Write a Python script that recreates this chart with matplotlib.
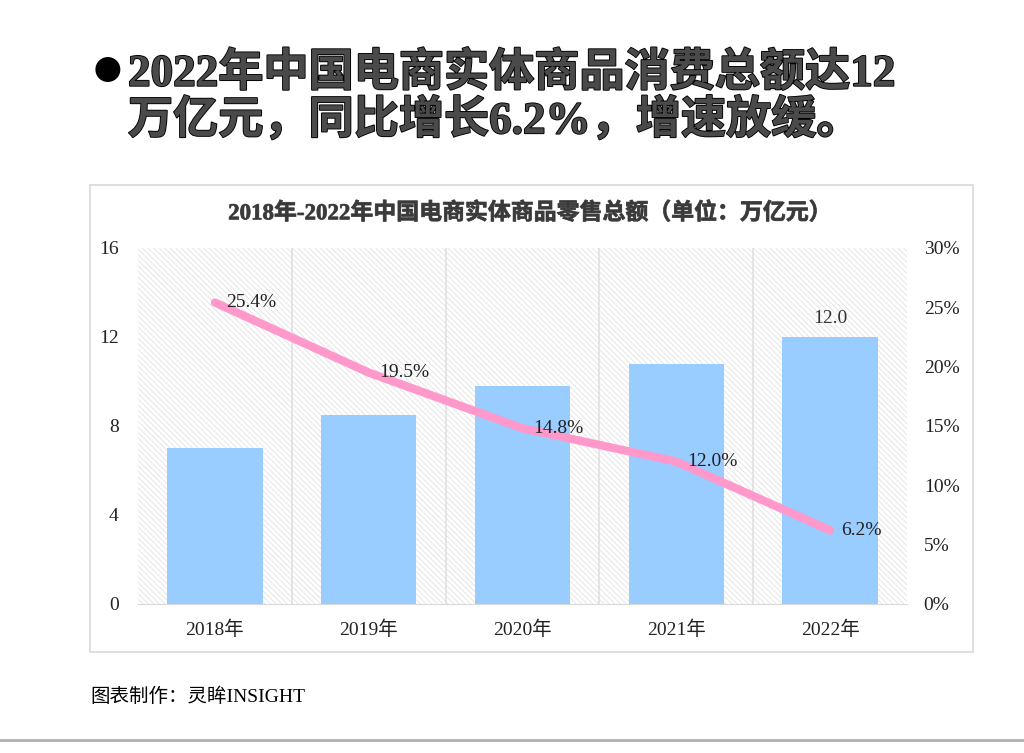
"""
2018-2022 China e-commerce physical goods retail total
bar (trillion yuan) + growth line (%)
"""
import numpy as np
import matplotlib.pyplot as plt
import matplotlib.patheffects as pe
from matplotlib.patches import Rectangle
from matplotlib.ticker import FuncFormatter

# data
years = ['2018年', '2019年', '2020年', '2021年', '2022年']
totals = [7.0, 8.5, 9.8, 10.8, 12.0]
growth = [25.4, 19.5, 14.8, 12.0, 6.2]

serif = ['Liberation Serif', 'Noto Sans CJK SC']
cjk = ['Noto Sans CJK SC', 'DejaVu Sans']
plt.rcParams['font.family'] = serif
plt.rcParams['hatch.linewidth'] = 0.5

fig = plt.figure(figsize=(10.24, 7.53), dpi=100)

# headline with bullet
fig.text(0.091, 0.905, '●', fontsize=20, family=cjk, va='center', ha='left')
head = ['2022年中国电商实体商品消费总额达12', '万亿元，同比增长6.2%，增速放缓。']
for i, line in enumerate(head):
    fig.text(0.125, 0.903 - i * 0.062, line, fontsize=32.5, family=serif,
             fontweight='bold', color='#4a4a4a', va='center', ha='left',
             path_effects=[pe.withStroke(linewidth=1.3, foreground='black')])

# chart frame
fig.patches.append(Rectangle((0.0879, 0.1341), 0.8623, 0.620, transform=fig.transFigure,
                             fill=False, edgecolor='#d9d9d9', linewidth=1.2))
fig.text(0.517, 0.717, '2018年-2022年中国电商实体商品零售总额（单位：万亿元）',
         fontsize=16.5, fontweight='bold', color='#3a3a3a', ha='center', va='center',
         path_effects=[pe.withStroke(linewidth=0.6, foreground='#555555')])

ax = fig.add_axes([0.1348, 0.1979, 0.751, 0.4728])
x = np.arange(len(years))

# hatched background + vertical separators
ax.add_patch(Rectangle((-0.5, 0), len(years), 16, facecolor='white', edgecolor='#dcdcdc',
                       hatch='\\\\\\\\\\\\', linewidth=0, zorder=0))
for b in np.arange(0.5, len(years) - 0.5, 1):
    ax.axvline(b, color='#e0e0e0', linewidth=1.2, zorder=1)

ax.bar(x, totals, width=0.62, color='#99CCFF', zorder=2)
ax.text(x[-1], totals[-1] + 0.45, f'{totals[-1]:.1f}', ha='center', va='bottom',
        fontsize=14, color='#333333')

ax.set_xlim(-0.5, len(years) - 0.5)
ax.set_ylim(0, 16)
ax.set_yticks([0, 4, 8, 12, 16])
ax.set_xticks(x)
ax.set_xticklabels(years)
for s in ['top', 'right', 'left']:
    ax.spines[s].set_visible(False)
ax.spines['bottom'].set_color('#d9d9d9')
ax.tick_params(length=0, labelsize=14, colors='#222222')
ax.tick_params(axis='x', pad=12)
ax.tick_params(axis='y', pad=14)

ax2 = ax.twinx()
ax2.plot(x, growth, color='#FF99CC', linewidth=6, solid_capstyle='round',
         solid_joinstyle='round', zorder=3)
for xi, g in zip(x, growth):
    ax2.text(xi + 0.07, g, f'{g:.1f}%', ha='left', va='center', fontsize=14, color='#222222')
ax2.set_ylim(0, 30)
ax2.set_yticks(np.arange(0, 31, 5))
ax2.yaxis.set_major_formatter(FuncFormatter(lambda v, p: f'{v:.0f}%'))
for s in ax2.spines.values():
    s.set_visible(False)
ax2.tick_params(length=0, labelsize=14, colors='#222222', pad=12)

# footnote and bottom rule
fig.text(0.088, 0.074, '图表制作：灵眸INSIGHT', fontsize=14, va='center', ha='left')
fig.add_artist(plt.Line2D([0, 1], [0.017, 0.017], transform=fig.transFigure,
                          color='#b0b0b0', linewidth=2))

fig.savefig('out.png', dpi=100)
